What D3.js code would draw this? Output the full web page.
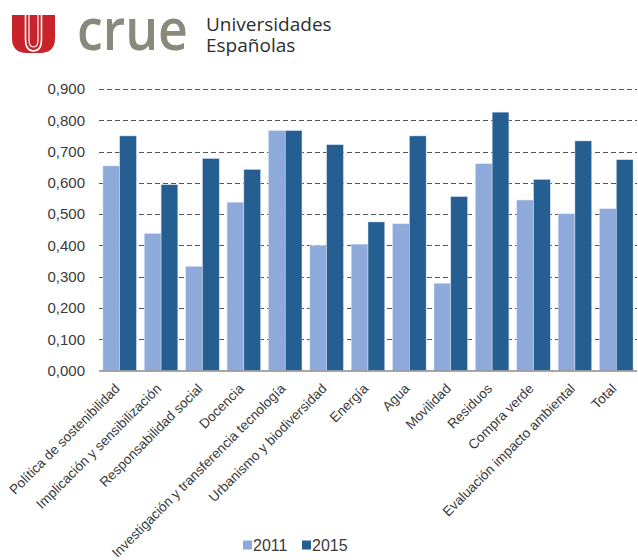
<!DOCTYPE html>
<html lang="es">
<head>
<meta charset="UTF-8">
<title>crue - indicadores 2011 / 2015</title>
<script src="https://d3js.org/d3.v7.min.js"></script>
<style>
    body { margin: 0; background: #fff; }
    svg { display: block; }
    .tick-label { font-family: "Liberation Sans", Arial, sans-serif; fill: #3a3a3a; }
</style>
</head>
<body>
<svg width="638" height="560"></svg>
<script>
    // categories and values
    const categories = ["Política de sostenibilidad", "Implicación y sensibilización", "Responsabilidad social",
        "Docencia", "Investigación y transferencia tecnología", "Urbanismo y biodiversidad", "Energía",
        "Agua", "Movilidad", "Residuos", "Compra verde", "Evaluación impacto ambiental", "Total"];
    const values2011 = [0.654, 0.438, 0.333, 0.538, 0.767, 0.400, 0.404, 0.469, 0.279, 0.661, 0.545, 0.501, 0.517];
    const values2015 = [0.750, 0.594, 0.678, 0.643, 0.767, 0.722, 0.475, 0.750, 0.556, 0.826, 0.611, 0.734, 0.674];
    const seriesNames = ["2011", "2015"];
    const yTicks = [0, 0.1, 0.2, 0.3, 0.4, 0.5, 0.6, 0.7, 0.8, 0.9];

    const colors = ["#8eaadb", "#255e91"];
    const svg = d3.select("svg");

    // ---- logo ----
    const logo = svg.append("g");
    logo.append("path")
        .attr("d", "M12,15 L55,15 L55,38 Q55,53 40,53 L27,53 Q12,53 12,38 Z")
        .attr("fill", "#c8222a");
    logo.append("path")
        .attr("d", "M25.5,15 L25.5,39 Q25.5,51 33.5,51 Q41.5,51 41.5,39 L41.5,15")
        .attr("fill", "none").attr("stroke", "#fff").attr("stroke-width", 1.6);
    logo.append("path")
        .attr("d", "M29,15 L29,40 Q29,47 33.5,47 Q38,47 38,40 L38,15")
        .attr("fill", "none").attr("stroke", "#fff").attr("stroke-width", 1.2);
    logo.append("text").attr("x", 77).attr("y", 50)
        .style("font-family", "'Open Sans', sans-serif").style("font-size", "57px")
        .style("font-weight", "600")
        .attr("textLength", 111).attr("lengthAdjust", "spacingAndGlyphs")
        .attr("fill", "#8a897c").text("crue");
    logo.append("text").attr("x", 206).attr("y", 31)
        .style("font-family", "'Open Sans', sans-serif").style("font-size", "19px")
        .attr("fill", "#2e2e2e").text("Universidades");
    logo.append("text").attr("x", 206).attr("y", 52)
        .style("font-family", "'Open Sans', sans-serif").style("font-size", "19px")
        .attr("fill", "#2e2e2e").text("Españolas");

    // ---- chart ----
    const plotLeft = 99, plotRight = 637, plotTop = 89, plotBottom = 370.5;

    const x0 = d3.scaleBand().domain(categories).range([plotLeft, plotRight])
        .paddingInner(0.19).paddingOuter(0.095);
    const x1 = d3.scaleBand().domain(seriesNames).range([0, x0.bandwidth()]);
    const y = d3.scaleLinear().domain([0, 0.9]).range([plotBottom, plotTop]);

    // dashed grid
    svg.append("g")
        .selectAll("line")
        .data(yTicks.filter(d => d > 0))
        .join("line")
        .attr("x1", plotLeft).attr("x2", plotRight)
        .attr("y1", d => Math.round(y(d)) + 0.5).attr("y2", d => Math.round(y(d)) + 0.5)
        .attr("stroke", "#555").attr("stroke-width", 1.2)
        .attr("stroke-dasharray", "5,3");

    // y axis labels
    const yAxis = d3.axisLeft(y).tickValues(yTicks)
        .tickSize(0).tickPadding(14)
        .tickFormat(d => d3.format(".3f")(d).replace(".", ","));
    const ya = svg.append("g").attr("transform", `translate(${plotLeft},0)`).call(yAxis);
    ya.select(".domain").remove();
    ya.selectAll("text").attr("class", "tick-label").style("font-size", "15px");

    // bars
    const groups = svg.append("g")
        .selectAll("g")
        .data(categories.map((c, i) => ({ c, v: [values2011[i], values2015[i]] })))
        .join("g")
        .attr("transform", d => `translate(${x0(d.c)},0)`);

    groups.selectAll("rect")
        .data(d => d.v.map((v, k) => ({ k, v })))
        .join("rect")
        .attr("x", d => x1(seriesNames[d.k]))
        .attr("width", x1.bandwidth())
        .attr("y", d => y(d.v))
        .attr("height", d => y(0) - y(d.v))
        .attr("fill", d => colors[d.k])
        .attr("stroke", "#d8e2f2").attr("stroke-width", 0.5);

    // baseline
    svg.append("line")
        .attr("x1", plotLeft).attr("x2", plotRight)
        .attr("y1", plotBottom + 0.5).attr("y2", plotBottom + 0.5)
        .attr("stroke", "#8a8a8a").attr("stroke-width", 1.3);

    // x labels, rotated
    svg.append("g")
        .selectAll("text")
        .data(categories)
        .join("text")
        .attr("class", "tick-label")
        .style("font-size", "13.6px")
        .attr("text-anchor", "end")
        .attr("transform", d => `translate(${x0(d) + x0.bandwidth() / 2 + 1},${plotBottom + 19}) rotate(-45)`)
        .text(d => d);

    // legend
    const legend = svg.append("g").attr("transform", "translate(243,545)");
    const items = legend.selectAll("g")
        .data(seriesNames)
        .join("g")
        .attr("transform", (d, i) => `translate(${i * 59},0)`);
    items.append("rect")
        .attr("x", 0).attr("y", -4.5).attr("width", 9).attr("height", 9)
        .attr("fill", (d, i) => colors[i]);
    items.append("text")
        .attr("class", "tick-label")
        .attr("x", 10).attr("y", 6)
        .style("font-size", "16px")
        .text(d => d);
</script>
</body>
</html>
